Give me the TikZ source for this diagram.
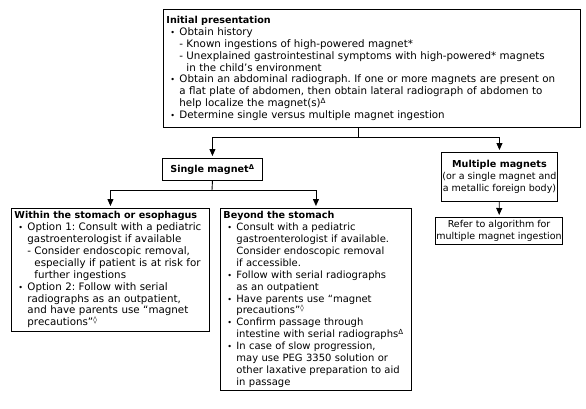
\documentclass[tikz,border=0pt]{standalone}
\usepackage{fontspec}
\setmainfont{DejaVu Sans}
\usetikzlibrary{arrows.meta}
\frenchspacing
\newcommand\itm{\par\hangindent=13pt\hangafter=1\noindent\makebox[13pt][l]{\hspace{4pt}{\fontsize{8}{8}\selectfont\textbullet}}}
\newcommand\subitm{\par\hangindent=20pt\hangafter=1\noindent\hspace*{13pt}\makebox[7pt][l]{-}}
\newcommand\hd[1]{{\fontsize{9.6}{11.9}\selectfont\textbf{#1}}}
\newcommand\dlt{\textsuperscript{Δ}}
\newcommand\dmd{\textsuperscript{◊}}

\begin{document}
\begin{tikzpicture}[x=1pt,y=-1pt,
	box/.style={draw,line width=0.9pt,anchor=north west,align=left,inner xsep=3pt,inner ysep=3pt,font=\fontsize{10.3}{11.9}\selectfont},
	cbox/.style={box,align=center,inner sep=1pt,font=\fontsize{9.5}{11.9}\selectfont},
	arr/.style={-{Triangle[width=6pt,length=7pt]},line width=0.9pt,shorten >=2pt}]
	\useasboundingbox (0,0) rectangle (586,408);
	\node[box,text width=411pt,minimum height=118pt] (init) at (163,9) {\hd{Initial presentation}
		\itm Obtain history
		\subitm Known ingestions of high-powered magnet*
		\subitm Unexplained gastrointestinal symptoms with high-powered* magnets\newline in the child’s environment
		\itm Obtain an abdominal radiograph. If one or more magnets are present on\newline a flat plate of abdomen, then obtain lateral radiograph of abdomen to\newline help localize the magnet(s)\dlt
		\itm Determine single versus multiple magnet ingestion\par};
	\node[cbox,minimum width=100pt,minimum height=22pt] (single) at (162,158) {\hd{Single magnet\dlt}};
	\node[cbox,minimum width=113pt,minimum height=49pt] (multi) at (441,152) {\hd{Multiple magnets}\\(or a single magnet and\\a metallic foreign body)};
	\node[cbox,minimum width=124pt,minimum height=27pt] (refer) at (435,217) {Refer to algorithm for\\multiple magnet ingestion};
	\node[box,text width=192pt] (within) at (11,208) {\hd{Within the stomach or esophagus}
		\itm Option 1: Consult with a pediatric\newline gastroenterologist if available
		\subitm Consider endoscopic removal,\newline especially if patient is at risk for\newline further ingestions
		\itm Option 2: Follow with serial\newline radiographs as an outpatient,\newline and have parents use “magnet\newline precautions”\dmd\par\vspace*{15pt}};
	\node[box,text width=185pt,font=\fontsize{10}{11.9}\selectfont] (beyond) at (220,208) {\hd{Beyond the stomach}
		\itm Consult with a pediatric\newline gastroenterologist if available.\newline Consider endoscopic removal\newline if accessible.
		\itm Follow with serial radiographs\newline as an outpatient
		\itm Have parents use “magnet\newline precautions”\dmd
		\itm Confirm passage through\newline intestine~with~serial~radiographs\dlt
		\itm In case of slow progression,\newline may use PEG 3350 solution or\newline other~laxative~preparation~to~aid\newline in passage\par\vspace*{21pt}};
	\coordinate (j1) at (358,137);
	\coordinate (j2) at (212,190);
	\draw[line width=0.9pt] (init.south -| j1) -- (j1);
	\draw[arr] (j1) -| (single.north);
	\draw[arr] (j1) -| (multi.north);
	\draw[line width=0.9pt] (single.south) -- (j2);
	\draw[arr] (j2) -| (within.north);
	\draw[arr] (j2) -| (beyond.north);
	\draw[arr] (multi) -- (refer);
\end{tikzpicture}
\end{document}
